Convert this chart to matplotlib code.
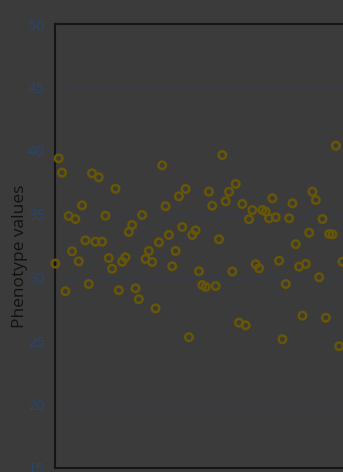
import matplotlib.pyplot as plt
import numpy as np

# phenotype value per sample, in sample order
phenotype = [
    31.11, 39.42, 38.29, 28.93, 34.87, 32.08, 34.63, 31.29, 35.71, 32.95,
    29.50, 38.24, 32.84, 37.92, 32.84, 34.89, 31.55, 30.71, 37.02, 29.01,
    31.26, 31.61, 33.61, 34.16, 29.16, 28.30, 34.95, 31.48, 32.11, 31.24,
    27.58, 32.79, 38.87, 35.64, 33.37, 30.90, 32.11, 36.42, 34.00, 37.00,
    25.30, 33.37, 33.74, 30.51, 29.42, 29.27, 36.79, 35.68, 29.34, 33.03,
    39.68, 36.03, 36.78, 30.49, 37.40, 26.45, 35.82, 26.24, 34.61, 35.34,
    31.06, 30.74, 35.34, 35.21, 34.69, 36.27, 34.77, 31.34, 25.14, 29.50,
    34.69, 35.87, 32.64, 30.87, 27.00, 31.08, 33.55, 36.79, 36.13, 30.03,
    34.63, 26.84, 33.45, 33.42, 40.42, 24.59, 31.26,
]
sample = np.arange(len(phenotype))
y_ticks = [15, 20, 25, 30, 35, 40, 45, 50]

bg = '#3b3b3b'
W, H = 343, 472

fig = plt.figure(figsize=(W / 100, H / 100), dpi=100, facecolor=bg)
# plot area runs past the right edge of the figure
ax = fig.add_axes([54.5 / W, (H - 467.7) / H, 334.8 / W, (467.7 - 24.3) / H])
ax.set_facecolor(bg)

ax.scatter(sample, phenotype, s=5.4 ** 2, facecolors='none',
           edgecolors='#675607', linewidths=1.8, zorder=3, clip_on=False)

ax.set_xlim(-0.25, 100)
ax.set_ylim(15, 50)
ax.set_xticks([])
ax.set_yticks(y_ticks)
ax.grid(axis='y', color='#363b44', linewidth=1.0)
ax.set_axisbelow(True)

for side in ['left', 'top', 'bottom']:
    ax.spines[side].set_color('#151515')
    ax.spines[side].set_linewidth(1.5)
ax.spines['right'].set_visible(False)

ax.tick_params(axis='y', length=0, pad=7, labelcolor='#29466e', labelsize=10.5)
for lbl in ax.get_yticklabels():
    lbl.set_fontfamily('Open Sans')

fig.text(20 / W, 1 - 256 / H, 'Phenotype values', rotation=90,
         ha='center', va='center', color='#121212', fontsize=12.5,
         family='Open Sans')

fig.savefig('out.png', dpi=100, facecolor=bg)
